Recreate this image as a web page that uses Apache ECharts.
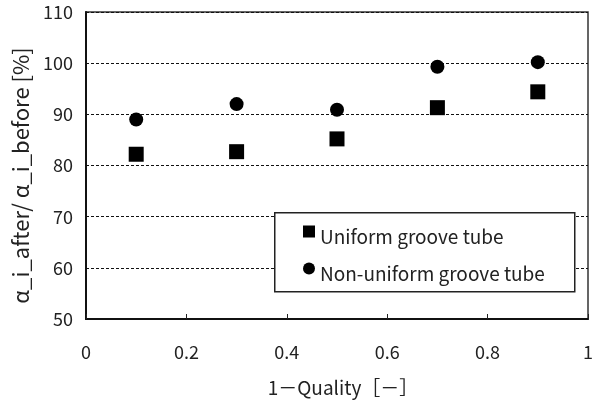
<!DOCTYPE html>
<html>
<head>
<meta charset="utf-8">
<script src="https://cdn.jsdelivr.net/npm/echarts@6/dist/echarts.min.js"></script>
<style>html,body{margin:0;padding:0;background:#fff}#c{width:600px;height:408px}</style>
</head>
<body>
<div id="c"></div>
<script>
var xValues = [0.1, 0.3, 0.5, 0.7, 0.9];
var uniformValues = [82.2, 82.7, 85.2, 91.3, 94.4];
var nonUniformValues = [89.0, 92.0, 90.9, 99.3, 100.2];
var seriesNames = ['Uniform groove tube', 'Non-uniform groove tube'];
var xAxisName = '1－Quality［－］';
var yAxisName = 'α_i_after/ α_i_before [%]';

function pairs(xs, ys) { return xs.map(function (x, i) { return [x, ys[i]]; }); }

var FONT = 'Noto Sans CJK JP';
var chart = echarts.init(document.getElementById('c'), null, { renderer: 'canvas' });
chart.setOption({
  animation: false,
  backgroundColor: '#fff',
  textStyle: { fontFamily: FONT },
  grid: { left: 86, right: 12, top: 12, bottom: 89, show: true, borderColor: '#333', borderWidth: 1.5, backgroundColor: 'transparent' },
  graphic: [{
    type: 'rect', z: 3, left: 274, top: 212,
    shape: { width: 300, height: 79 },
    style: { fill: '#fff', stroke: '#222', lineWidth: 1.5 }
  }],
  xAxis: {
    type: 'value', min: 0, max: 1, interval: 0.2,
    name: xAxisName, nameLocation: 'middle', nameGap: 59,
    nameTextStyle: { fontSize: 19, color: '#222', fontFamily: FONT, padding: [0, 0, 0, 12] },
    axisLine: { show: true, lineStyle: { color: '#111', width: 2 } },
    axisTick: { show: true, inside: true, length: 5, lineStyle: { color: '#222' } },
    axisLabel: { fontSize: 18, color: '#222', margin: 24, fontFamily: FONT },
    splitLine: { show: false }
  },
  yAxis: {
    type: 'value', min: 50, max: 110, interval: 10,
    name: yAxisName, nameLocation: 'middle', nameGap: 43,
    nameTextStyle: { fontSize: 22, color: '#222', fontFamily: FONT, padding: [0, 20, 0, 0] },
    axisLine: { show: true, lineStyle: { color: '#111', width: 2 } },
    axisTick: { show: false },
    axisLabel: { fontSize: 18, color: '#222', margin: 13, fontFamily: FONT },
    splitLine: { show: true, lineStyle: { color: '#111', width: 1, type: [3, 2] } }
  },
  legend: {
    orient: 'vertical', left: 303, top: 217,
    padding: 0,
    itemGap: 8, itemWidth: 12, itemHeight: 12,
    formatter: function (n) { return '{t|' + n + '}'; },
    textStyle: {
      fontSize: 19, color: '#222', fontFamily: FONT,
      rich: { t: { fontSize: 19, color: '#222', fontFamily: FONT, padding: [10, 0, 0, 0], lineHeight: 22 } }
    },
    data: [
      { name: seriesNames[0], icon: 'rect' },
      { name: seriesNames[1], icon: 'circle' }
    ]
  },
  series: [
    { name: seriesNames[0], type: 'scatter', symbol: 'rect', symbolSize: 15, itemStyle: { color: '#000', opacity: 1 }, data: pairs(xValues, uniformValues) },
    { name: seriesNames[1], type: 'scatter', symbol: 'circle', symbolSize: 14, itemStyle: { color: '#000', opacity: 1 }, data: pairs(xValues, nonUniformValues) }
  ]
});
</script>
</body>
</html>
